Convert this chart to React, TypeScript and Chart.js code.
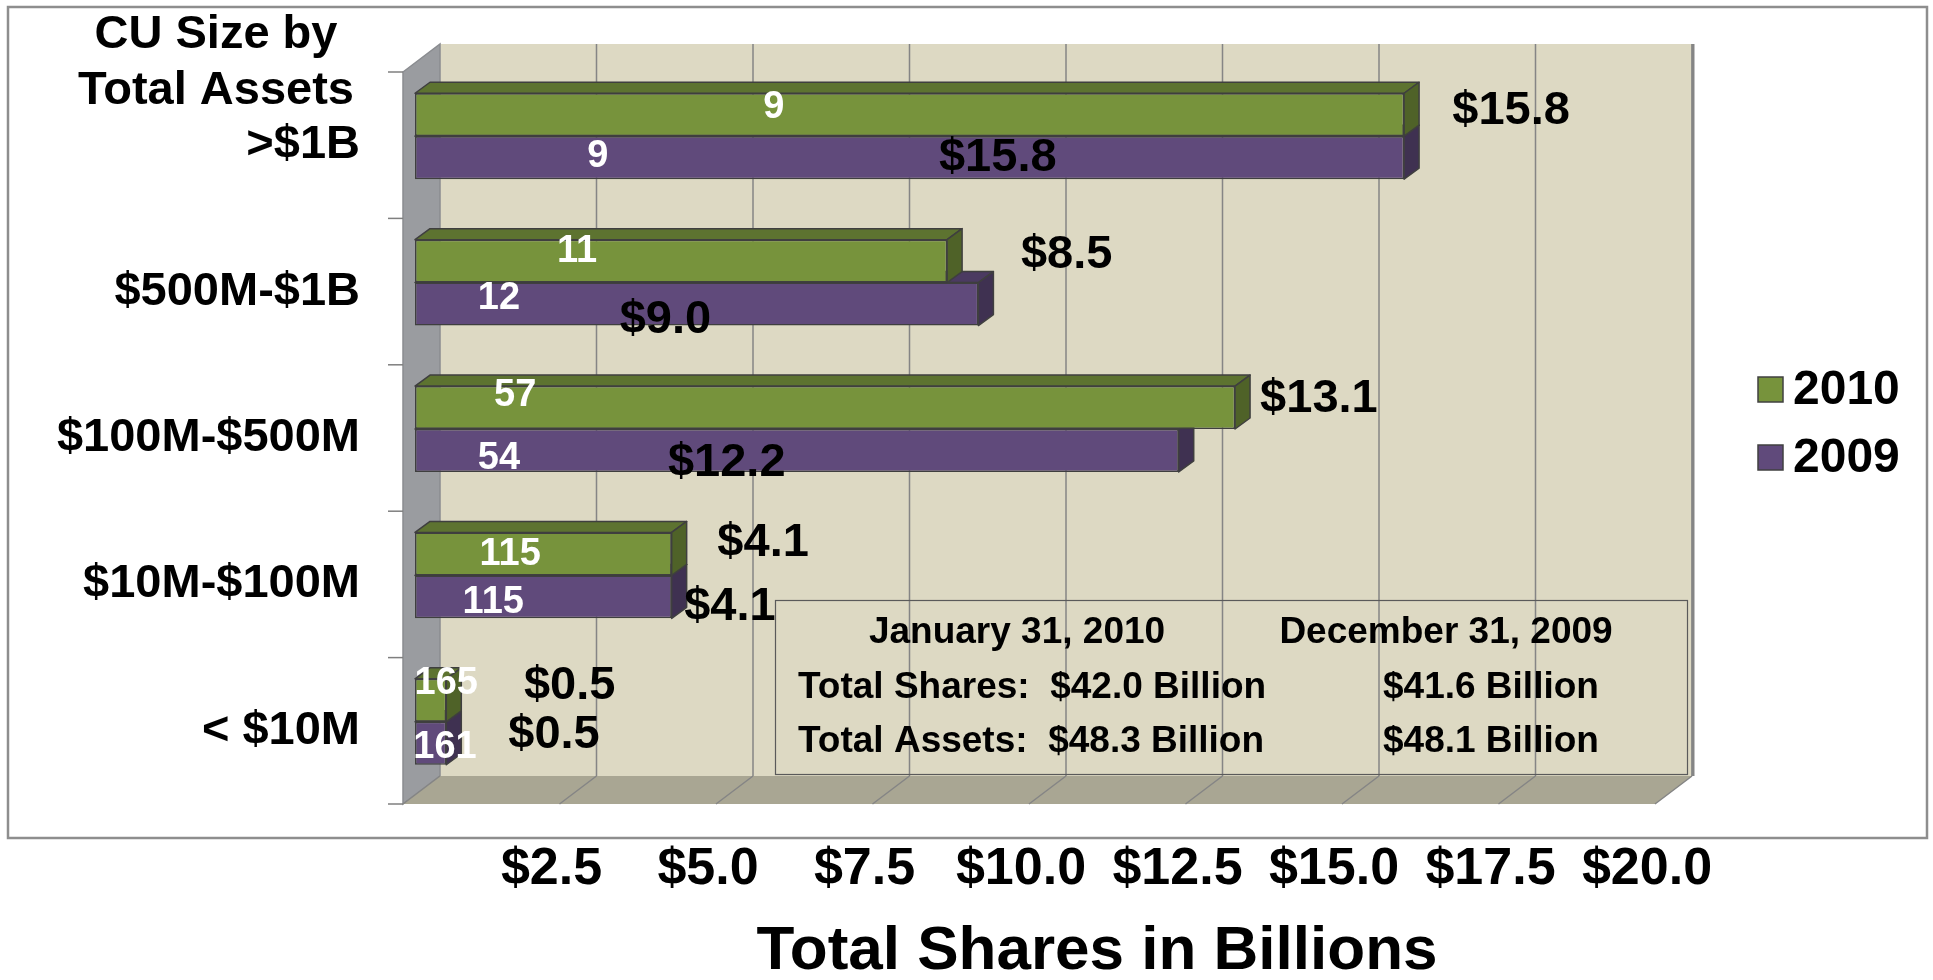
import React, { useEffect, useRef } from 'react';
import { Chart, registerables } from 'chart.js';

Chart.register(...registerables);

const W = 1933;
const H = 980;
const FONT = '"Liberation Sans", Arial, Helvetica, sans-serif';

// ---------- data ----------
const categories = ['>$1B', '$500M-$1B', '$100M-$500M', '$10M-$100M', '< $10M'];
const seriesNames = ['2010', '2009'];
const shares2010 = [15.8, 8.5, 13.1, 4.1, 0.5];
const shares2009 = [15.8, 9.0, 12.2, 4.1, 0.5];
const counts2010 = [9, 11, 57, 115, 165];
const counts2009 = [9, 12, 54, 115, 161];
const xMin = 0;
const xMax = 20;
const xStep = 2.5;
const titleLines = ['CU Size by', 'Total Assets'];
const axisTitle = 'Total Shares in Billions';
const infoHeaders = ['January 31, 2010', 'December 31, 2009'];
const infoRowLeft = ['Total Shares:  $42.0 Billion', 'Total Assets:  $48.3 Billion'];
const infoRowRight = ['$41.6 Billion', '$48.1 Billion'];

// ---------- styles / layout ----------
const COLORS = {
  front: ['#77933C', '#604A7B'],
  top: ['#5D7330', '#4B3A61'],
  side: ['#4F6228', '#3F3151'],
  border: '#3F3F3F',
  wall: '#DDD9C3',
  leftWall: '#9A9CA0',
  floor: '#A9A693',
  grid: '#858585',
  frame: '#8E8E8E',
};
const BAR_DEPTH = { dx: 15, dy: 11 };
const FRONT = { dx: -12, dy: 9 };
const BACK = { dx: 25, dy: -19 };

// label placement: [x in data units, vertical pixel offset from bar centre]
const countLabelPos = [
  [[5.73, -7], [2.59, -10], [1.6, -12], [1.52, 1], [0.5, -17]],
  [[2.92, -1], [1.34, -6], [1.34, 8], [1.25, 6], [0.48, 4]],
];
const shareLabelPos = [
  [[16.57, -4], [9.68, -6], [13.5, -8], [4.83, -11], [1.74, -14]],
  [[8.37, 0], [3.27, 16], [4.04, 13], [4.3, 10], [1.49, -8]],
];

const font = (size: number) => `bold ${size}px ${FONT}`;

const zeroPadding = (s: any) => {
  s.paddingTop = 0;
  s.paddingBottom = 0;
  s.paddingLeft = 0;
  s.paddingRight = 0;
};

const threeDPlugin = {
  id: 'threeD',
  beforeDraw(chart: any) {
    const { ctx, chartArea: a, scales } = chart;
    const xs = scales.x;
    const ys = scales.y;
    const x0 = xs.getPixelForValue(xMin);
    const x1 = xs.getPixelForValue(xMax);
    ctx.save();
    ctx.fillStyle = '#ffffff';
    ctx.fillRect(0, 0, W, H);
    // frame
    ctx.strokeStyle = COLORS.frame;
    ctx.lineWidth = 2.5;
    ctx.strokeRect(8, 7, 1919, 831);

    // back wall
    ctx.fillStyle = COLORS.wall;
    ctx.fillRect(x0 + BACK.dx, a.top + BACK.dy, x1 - x0, a.bottom - a.top);
    // left wall
    ctx.beginPath();
    ctx.moveTo(x0 + FRONT.dx, a.top + FRONT.dy);
    ctx.lineTo(x0 + BACK.dx, a.top + BACK.dy);
    ctx.lineTo(x0 + BACK.dx, a.bottom + BACK.dy);
    ctx.lineTo(x0 + FRONT.dx, a.bottom + FRONT.dy);
    ctx.closePath();
    ctx.fillStyle = COLORS.leftWall;
    ctx.fill();
    ctx.strokeStyle = '#8A8C90';
    ctx.lineWidth = 1.5;
    ctx.stroke();
    // floor
    ctx.beginPath();
    ctx.moveTo(x0 + FRONT.dx, a.bottom + FRONT.dy);
    ctx.lineTo(x0 + BACK.dx, a.bottom + BACK.dy);
    ctx.lineTo(x1 + BACK.dx, a.bottom + BACK.dy);
    ctx.lineTo(x1 + FRONT.dx, a.bottom + FRONT.dy);
    ctx.closePath();
    ctx.fillStyle = COLORS.floor;
    ctx.fill();

    // gridlines on back wall and floor
    ctx.strokeStyle = COLORS.grid;
    ctx.lineWidth = 1.5;
    xs.ticks.forEach((t: any) => {
      const px = xs.getPixelForValue(t.value);
      ctx.beginPath();
      if (t.value !== xMin) {
        ctx.moveTo(px + BACK.dx, a.top + BACK.dy);
        ctx.lineTo(px + BACK.dx, a.bottom + BACK.dy);
      }
      ctx.moveTo(px + BACK.dx, a.bottom + BACK.dy);
      ctx.lineTo(px + FRONT.dx, a.bottom + FRONT.dy);
      ctx.stroke();
    });
    // right edge strip
    ctx.lineWidth = 3;
    ctx.beginPath();
    ctx.moveTo(x1 + BACK.dx + 1, a.top + BACK.dy);
    ctx.lineTo(x1 + BACK.dx + 1, a.bottom + BACK.dy);
    ctx.stroke();

    // category axis tick marks (front plane)
    ctx.strokeStyle = '#7F7F7F';
    ctx.lineWidth = 1.5;
    for (let i = 0; i <= categories.length; i++) {
      const py = ys.getPixelForValue(i - 0.5) + FRONT.dy;
      ctx.beginPath();
      ctx.moveTo(x0 + FRONT.dx - 15, py);
      ctx.lineTo(x0 + FRONT.dx, py);
      ctx.stroke();
    }

    // info box
    ctx.strokeStyle = '#5A5A5A';
    ctx.lineWidth = 1.2;
    ctx.strokeRect(775.5, 600.5, 912, 174);

    // y-axis title
    ctx.fillStyle = '#000';
    ctx.font = font(47);
    ctx.textAlign = 'center';
    ctx.textBaseline = 'middle';
    titleLines.forEach((l, i) => ctx.fillText(l, 216, 35 + i * 56));

    // x-axis title
    ctx.font = font(62);
    ctx.fillText(axisTitle, 1097, 952);

    // info text
    ctx.font = font(37);
    ctx.fillText(infoHeaders[0], 1017, 633);
    ctx.fillText(infoHeaders[1], 1446, 633);
    ctx.textAlign = 'left';
    infoRowLeft.forEach((t, i) => ctx.fillText(t, 798, 688 + i * 54));
    infoRowRight.forEach((t, i) => ctx.fillText(t, 1383, 688 + i * 54));

    // legend
    ctx.font = font(48);
    seriesNames.forEach((n, i) => {
      const ly = 377 + i * 68;
      ctx.fillStyle = COLORS.front[i];
      ctx.fillRect(1758, ly, 25, 25);
      ctx.strokeStyle = '#404040';
      ctx.lineWidth = 1.5;
      ctx.strokeRect(1758, ly, 25, 25);
      ctx.fillStyle = '#000';
      ctx.fillText(n, 1793, ly + 14);
    });
    ctx.restore();
  },
  beforeDatasetsDraw(chart: any) {
    const { ctx } = chart;
    ctx.save();
    ctx.strokeStyle = COLORS.border;
    ctx.lineWidth = 1.5;
    ctx.lineJoin = 'round';
    for (let d = chart.data.datasets.length - 1; d >= 0; d--) {
      const meta = chart.getDatasetMeta(d);
      meta.data.forEach((el: any) => {
        const { x, y, base, height } = el.getProps(['x', 'y', 'base', 'height'], true);
        const left = Math.min(x, base);
        const right = Math.max(x, base);
        const top = y - height / 2;
        const bottom = y + height / 2;
        const { dx, dy } = BAR_DEPTH;
        // top face
        ctx.beginPath();
        ctx.moveTo(left, top);
        ctx.lineTo(left + dx, top - dy);
        ctx.lineTo(right + dx, top - dy);
        ctx.lineTo(right, top);
        ctx.closePath();
        ctx.fillStyle = COLORS.top[d];
        ctx.fill();
        ctx.stroke();
        // side face
        ctx.beginPath();
        ctx.moveTo(right, top);
        ctx.lineTo(right + dx, top - dy);
        ctx.lineTo(right + dx, bottom - dy);
        ctx.lineTo(right, bottom);
        ctx.closePath();
        ctx.fillStyle = COLORS.side[d];
        ctx.fill();
        ctx.stroke();
      });
    }
    ctx.restore();
  },
  afterDatasetsDraw(chart: any) {
    const { ctx, scales } = chart;
    const xs = scales.x;
    const counts = [counts2010, counts2009];
    const shares = [shares2010, shares2009];
    ctx.save();
    ctx.textBaseline = 'middle';
    for (let d = 0; d < chart.data.datasets.length; d++) {
      const meta = chart.getDatasetMeta(d);
      meta.data.forEach((el: any, i: number) => {
        const { y } = el.getProps(['y'], true);
        const [cv, cdy] = countLabelPos[d][i];
        ctx.font = font(38);
        ctx.fillStyle = '#ffffff';
        ctx.textAlign = 'center';
        ctx.fillText(String(counts[d][i]), xs.getPixelForValue(cv), y + cdy);
        const [sv, sdy] = shareLabelPos[d][i];
        ctx.font = font(47);
        ctx.fillStyle = '#000000';
        ctx.textAlign = 'left';
        ctx.fillText('$' + shares[d][i].toFixed(1), xs.getPixelForValue(sv), y + sdy);
      });
    }
    ctx.restore();
  },
};

export default function App() {
  const ref = useRef<HTMLCanvasElement>(null);
  useEffect(() => {
    document.body.style.margin = '0';
    document.body.style.overflow = 'hidden';
    const canvas = ref.current!;
    const chart = new Chart(canvas, {
      type: 'bar',
      data: {
        labels: categories,
        datasets: [
          {
            label: seriesNames[0],
            data: shares2010,
            backgroundColor: COLORS.front[0],
            borderColor: COLORS.border,
            borderWidth: 1.5,
            borderSkipped: false,
            categoryPercentage: 0.587,
            barPercentage: 1,
          },
          {
            label: seriesNames[1],
            data: shares2009,
            backgroundColor: COLORS.front[1],
            borderColor: COLORS.border,
            borderWidth: 1.5,
            borderSkipped: false,
            categoryPercentage: 0.587,
            barPercentage: 1,
          },
        ],
      },
      options: {
        indexAxis: 'y',
        responsive: false,
        animation: false,
        devicePixelRatio: 1,
        layout: { padding: { left: 0, right: 266, top: 63, bottom: 0 } },
        plugins: {
          legend: { display: false },
          tooltip: { enabled: false },
          title: { display: false },
        },
        scales: {
          x: {
            type: 'linear',
            min: xMin,
            max: xMax,
            position: 'bottom',
            grid: { display: false, drawTicks: false },
            border: { display: false },
            ticks: {
              stepSize: xStep,
              autoSkip: false,
              maxRotation: 0,
              padding: 43,
              labelOffset: -20,
              color: '#000',
              font: { family: FONT, size: 52, weight: 'bold' },
              callback: (v: any) => (Number(v) === 0 ? '' : '$' + Number(v).toFixed(1)),
            },
            afterFit: (s: any) => {
              s.height = 185;
              zeroPadding(s);
            },
          },
          y: {
            type: 'category',
            position: 'left',
            grid: { display: false, drawTicks: false },
            border: { display: false },
            ticks: {
              padding: 55,
              labelOffset: 9,
              color: '#000',
              font: { family: FONT, size: 47, weight: 'bold' },
            },
            afterFit: (s: any) => {
              s.width = 415;
              zeroPadding(s);
            },
          },
        },
      } as any,
      plugins: [threeDPlugin],
    });
    return () => chart.destroy();
  }, []);
  return (
    <div style={{ width: W, height: H }}>
      <canvas ref={ref} width={W} height={H} style={{ display: 'block', width: W, height: H }} />
    </div>
  );
}
